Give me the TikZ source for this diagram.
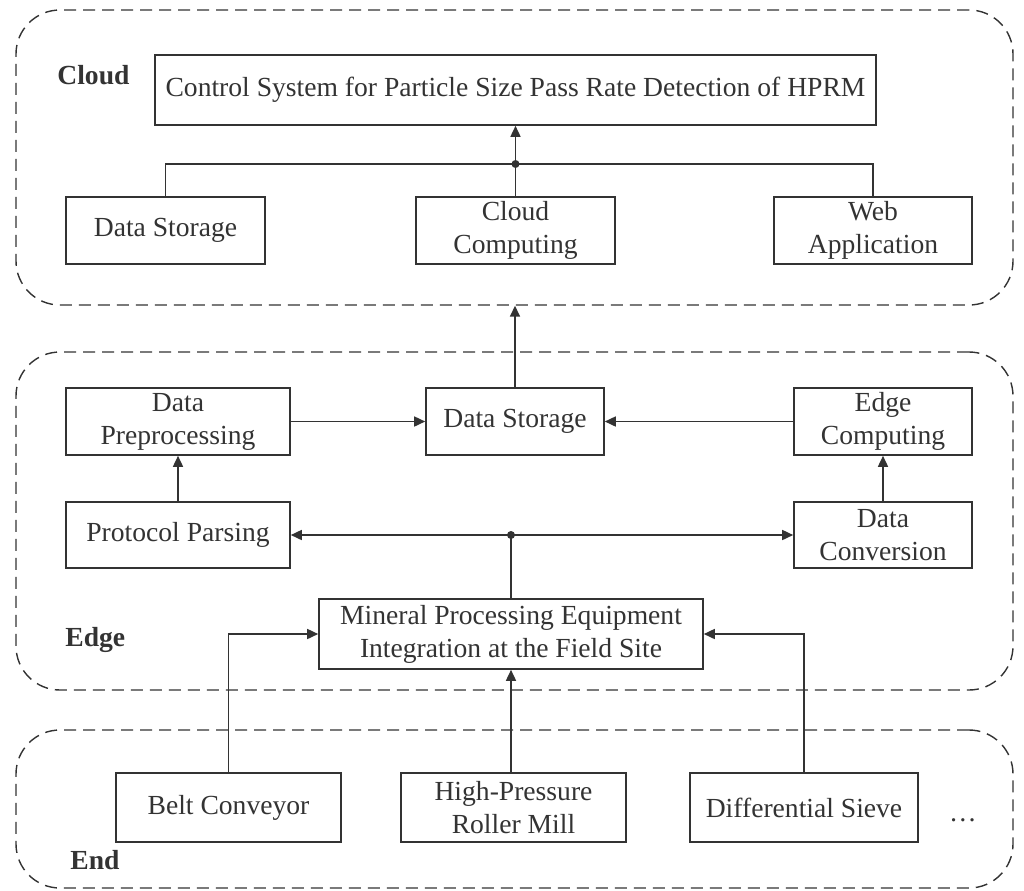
\documentclass[tikz,border=0pt]{standalone}
\usepackage{fontspec}
\setmainfont{Liberation Serif}
\usetikzlibrary{arrows.meta}
\definecolor{ink}{HTML}{333333}
\begin{document}
\begin{tikzpicture}[x=0.5pt,y=-0.5pt,
  every node/.style={font=\fontsize{13.8}{16.5}\selectfont, text=ink},
  box/.style={draw=ink, line width=0.8pt, align=center, inner sep=0pt},
  layer/.style={draw=ink, line width=0.7pt, dash pattern=on 6pt off 3.5pt,
                rounded corners=22pt, inner sep=0pt},
  tag/.style={font=\fontsize{13.8}{16.5}\selectfont\bfseries, anchor=west, inner sep=0pt},
  link/.style={draw=ink, line width=0.8pt},
  arr/.style={link, -{Triangle[length=5.5pt,width=5pt]}},
  dot/.style={circle, fill=ink, inner sep=0pt, minimum size=4pt}]

\useasboundingbox (0,0) rectangle (1024,890);

% layer frames
\node[layer, minimum width=498.5pt, minimum height=147.5pt] (cloud) at (514.5,157.5) {};
\node[layer, minimum width=498.5pt, minimum height=169pt]   (edge)  at (514.5,521) {};
\node[layer, minimum width=498.5pt, minimum height=79pt]    (end)   at (514.5,809) {};

\node[tag] (tcloud) at (57,75)  {Cloud};
\node[tag] (tedge)  at (65,640) {Edge};
\node[tag] (tend)   at (70,860) {End};

% cloud layer
\node[box, minimum width=360.5pt, minimum height=35pt] (ctrl) at (515.5,90)
  {Control System for Particle Size Pass Rate Detection of HPRM};
\node[box, minimum width=99.5pt, minimum height=33.5pt] (cds) at (165.5,230.5) {Data Storage};
\node[box, minimum width=99.5pt, minimum height=33.5pt] (cc)  at (515.5,230.5) {Cloud\\Computing};
\node[box, minimum width=99pt,   minimum height=33.5pt] (web) at (873,230.5) {Web\\Application};

% edge layer
\node[box, minimum width=112pt, minimum height=33.5pt] (dpre)  at (178,421.5) {Data\\Preprocessing};
\node[box, minimum width=89pt,  minimum height=33.5pt] (eds)   at (515,421.5) {Data Storage};
\node[box, minimum width=89pt,  minimum height=33.5pt] (ecomp) at (883,421.5) {Edge\\Computing};
\node[box, minimum width=112pt, minimum height=33pt]   (pp)    at (178,535) {Protocol Parsing};
\node[box, minimum width=89pt,  minimum height=33pt]   (dconv) at (883,535) {Data\\Conversion};
\node[box, minimum width=192pt, minimum height=35pt]   (mineral) at (511,634)
  {Mineral Processing Equipment\\Integration at the Field Site};

% end layer
\node[box, minimum width=112.5pt, minimum height=34.5pt] (belt)  at (228.5,807.5) {Belt Conveyor};
\node[box, minimum width=112.5pt, minimum height=34.5pt] (hp)    at (513.5,807.5) {High-Pressure\\Roller Mill};
\node[box, minimum width=114pt,   minimum height=34.5pt] (sieve) at (804,807.5) {Differential Sieve};
\node (more) at (963,820) {\ldots};

% cloud connectors
\coordinate (cj) at (515.5,164);
\draw[link] (cds.north) |- (cj) -| (web.north);
\draw[arr] (cc.north) -- (ctrl.south);
\node[dot] (cjdot) at (cj) {};

% edge to cloud
\draw[arr] (eds.north) -- (eds.north |- cloud.south);

% edge connectors
\draw[arr] (dpre.east) -- (eds.west);
\draw[arr] (ecomp.west) -- (eds.east);
\draw[arr] (pp.north) -- (dpre.south);
\draw[arr] (dconv.north) -- (ecomp.south);
\coordinate (ej) at (511,535);
\draw[link] (mineral.north) -- (ej);
\draw[arr] (ej) -- (pp.east);
\draw[arr] (ej) -- (dconv.west);
\node[dot] (ejdot) at (ej) {};

% end to edge
\draw[arr] (belt.north) |- (mineral.west);
\draw[arr] (hp.north -| mineral.south) -- (mineral.south);
\draw[arr] (sieve.north) |- (mineral.east);
\end{tikzpicture}
\end{document}
